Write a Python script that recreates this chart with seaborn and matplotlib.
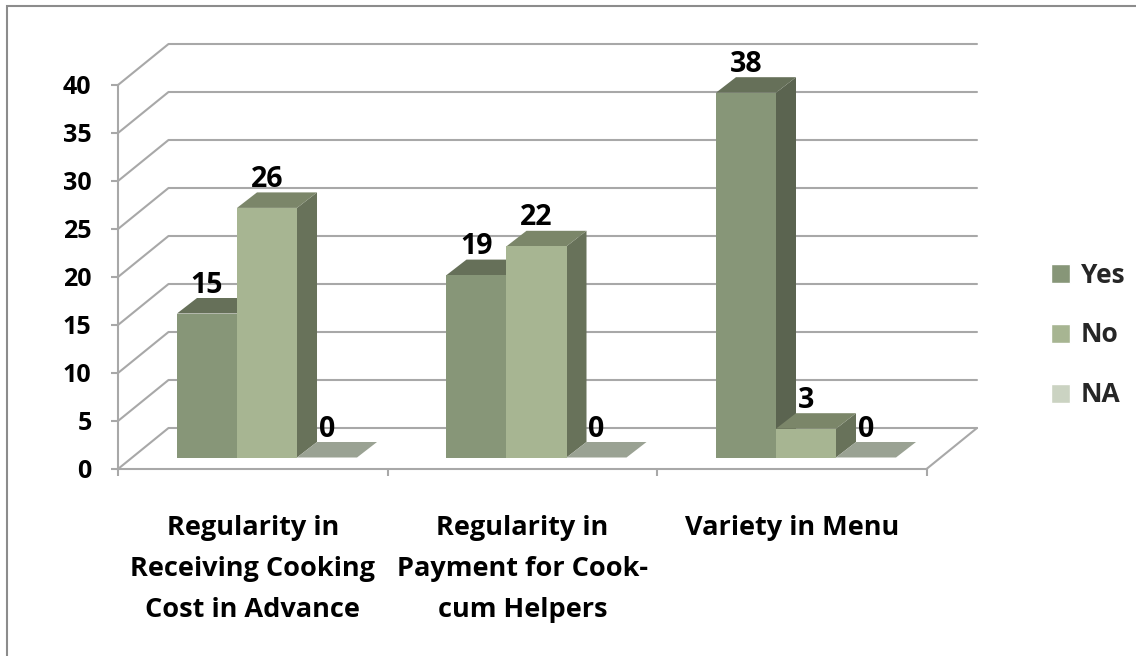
import matplotlib
matplotlib.use("Agg")
import matplotlib.pyplot as plt
from matplotlib.lines import Line2D
from matplotlib.patches import Polygon
import pandas as pd
import seaborn as sns

categories = ["Regularity in\nReceiving Cooking\nCost in Advance",
              "Regularity in\nPayment for Cook-\ncum Helpers",
              "Variety in Menu"]
yes_values = [15, 19, 38]
no_values = [26, 22, 3]
na_values = [0, 0, 0]
responses = ["Yes", "No", "NA"]
y_ticks = [0, 5, 10, 15, 20, 25, 30, 35, 40]

front_colors = {"Yes": "#879678", "No": "#a7b592", "NA": "#cbd3c2"}
side_colors = {"Yes": "#5b6450", "No": "#68725a", "NA": "#9aa293"}
top_colors = {"Yes": "#667059", "No": "#7b8669", "NA": "#9aa293"}
line_color = "#a8a8a8"

W, H = 1136, 656
# one category is 269.5 px wide, one value unit is 9.6 px high
XU, YU = 269.5, 9.6

df = pd.DataFrame({"category": categories * 3,
                   "count": yes_values + no_values + na_values,
                   "response": [r for r in responses for _ in categories]})

sns.set_theme(style="white")
plt.rcParams["font.family"] = ["Open Sans", "DejaVu Sans"]
plt.rcParams["font.weight"] = "bold"

fig = plt.figure(figsize=(W / 100, H / 100), dpi=100)
ax = fig.add_axes([118 / W, 1 - 469 / H, 3 * XU / W, 40 * YU / H])
sns.barplot(data=df, x="category", y="count", hue="response", palette=front_colors,
            width=0.668, gap=0, saturation=1, ax=ax)
ax.set_xlim(-0.5, 2.5)
ax.set_ylim(0, 40)
ax.set_xlabel("")
ax.set_ylabel("")

# walls, going back from the front plane
wall_dx, wall_dy = 50.5 / XU, 41 / YU
for v in y_ticks:
    ax.plot([-0.5, -0.5 + wall_dx, 2.5 + wall_dx], [v, v + wall_dy, v + wall_dy],
            color=line_color, lw=1.5, clip_on=False, zorder=1)
ax.plot([2.5, 2.5 + wall_dx], [0, wall_dy], color=line_color, lw=1.5, clip_on=False, zorder=1)

# bars stand a little behind the front plane, each one gets side and top faces
shift_x, shift_y = 14.25 / XU, 11.5 / YU
bar_dx, bar_dy = 20 / XU, 15.5 / YU
for k, (name, bars) in enumerate(zip(responses, ax.containers)):
    z = 3 + k * 3
    for p in bars:
        x0 = p.get_x() + shift_x
        w = p.get_width()
        h = p.get_height()
        p.set_x(x0)
        p.set_y(shift_y)
        y1 = shift_y + h
        p.set_linewidth(0)
        p.set_clip_on(False)
        p.set_zorder(z + 2)
        ax.add_patch(Polygon([(x0 + w, shift_y), (x0 + w + bar_dx, shift_y + bar_dy),
                              (x0 + w + bar_dx, y1 + bar_dy), (x0 + w, y1)],
                             fc=side_colors[name], lw=0, clip_on=False, zorder=z))
        ax.add_patch(Polygon([(x0, y1), (x0 + bar_dx, y1 + bar_dy),
                              (x0 + w + bar_dx, y1 + bar_dy), (x0 + w, y1)],
                             fc=top_colors[name], lw=0, clip_on=False, zorder=z + 1))
        ax.annotate(f"{int(h)}", (x0 + w / 2, y1), xytext=(0, 15), textcoords="offset points",
                    ha="center", va="baseline", fontsize=20.5, fontweight="bold",
                    color="black", zorder=20, annotation_clip=False)

for side in ["top", "right"]:
    ax.spines[side].set_visible(False)
for side in ["left", "bottom"]:
    ax.spines[side].set_color(line_color)
    ax.spines[side].set_linewidth(1.5)
    ax.spines[side].set_zorder(2)

ax.set_yticks(y_ticks)
ax.tick_params(axis="y", length=5, width=1.5, color=line_color, pad=14,
               labelsize=18, labelcolor="black", left=True)
ax.set_xticks([0, 1, 2])
ax.set_xticklabels(categories, fontsize=19.5, fontweight="bold", color="black", linespacing=1.76)
ax.set_xticks([-0.5, 0.5, 1.5, 2.5], minor=True)
ax.tick_params(axis="x", which="major", length=0, pad=33)
ax.tick_params(axis="x", which="minor", length=5, width=1.5, color=line_color, bottom=True)
for lab in ax.get_yticklabels():
    lab.set_fontweight("bold")

sns.move_legend(ax, "center left", bbox_to_anchor=(1051 / W, 1 - 335 / H),
                bbox_transform=fig.transFigure, frameon=False, title=None,
                fontsize=19, labelspacing=1.25, handlelength=0.72, handleheight=0.72,
                handletextpad=0.42, borderpad=0, borderaxespad=0)
for t in ax.get_legend().get_texts():
    t.set_fontweight("bold")

# only the top and left edges of the chart frame show in the picture
fig.add_artist(Line2D([7 / W, 7 / W, 1], [0, 1 - 6 / H, 1 - 6 / H], color="#8c8c8c", lw=1.5,
                      solid_joinstyle="miter", transform=fig.transFigure))

fig.savefig("out.png", dpi=100)
